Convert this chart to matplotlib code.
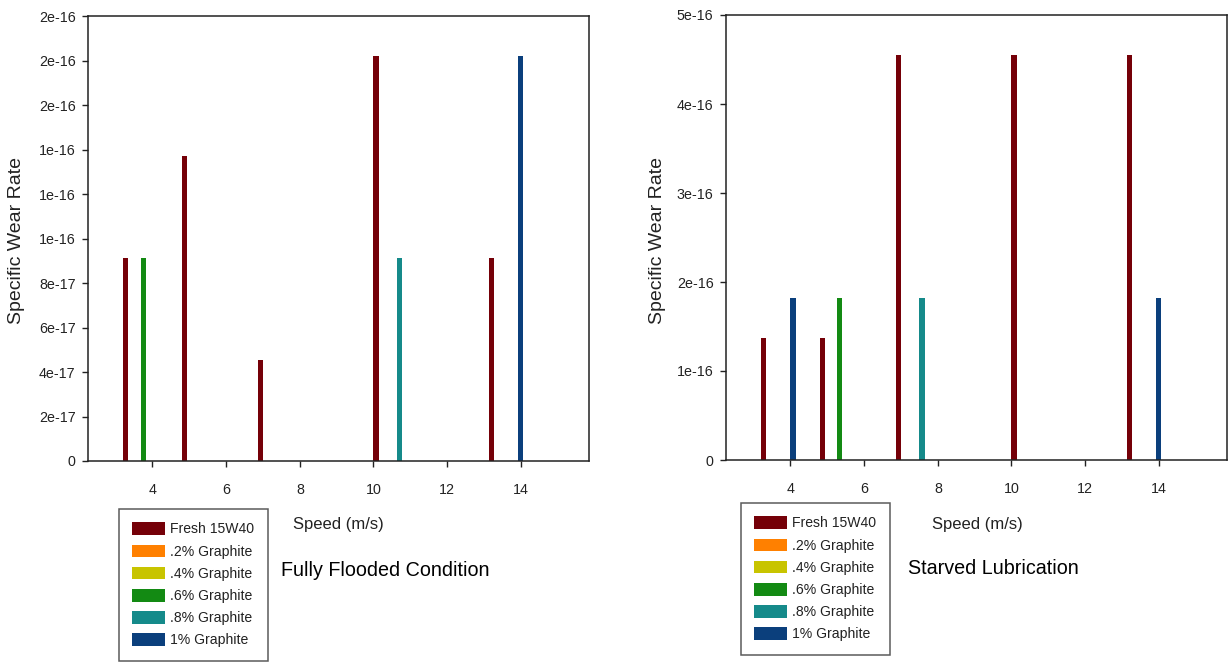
import matplotlib
matplotlib.use("Agg")
import matplotlib.pyplot as plt
import matplotlib.ticker as mticker
from matplotlib.patches import Patch
import numpy as np

plt.rcParams['font.family'] = ['Liberation Sans', 'DejaVu Sans']

speeds = [3.27, 4.86, 6.93, 10.07, 13.2]
series = ["Fresh 15W40", ".2% Graphite", ".4% Graphite", ".6% Graphite", ".8% Graphite", "1% Graphite"]
colors = ["#750008", "#ff8000", "#c8c400", "#138a13", "#158a8a", "#0b3f7c"]

flooded = {
    "Fresh 15W40": [9.12e-17, 1.37e-16, 4.56e-17, 1.82e-16, 9.12e-17],
    ".2% Graphite": [0, 0, 0, 0, 0],
    ".4% Graphite": [0, 0, 0, 0, 0],
    ".6% Graphite": [9.12e-17, 0, 0, 0, 0],
    ".8% Graphite": [0, 0, 0, 9.12e-17, 0],
    "1% Graphite": [0, 0, 0, 0, 1.82e-16],
}
starved = {
    "Fresh 15W40": [1.37e-16, 1.37e-16, 4.55e-16, 4.55e-16, 4.55e-16],
    ".2% Graphite": [0, 0, 0, 0, 0],
    ".4% Graphite": [0, 0, 0, 0, 0],
    ".6% Graphite": [0, 1.82e-16, 0, 0, 0],
    ".8% Graphite": [0, 0, 1.82e-16, 0, 0],
    "1% Graphite": [1.82e-16, 0, 0, 0, 1.82e-16],
}
x_ticks = [4, 6, 8, 10, 12, 14]
flooded_yticks = np.arange(0, 2.01e-16, 2e-17)
starved_yticks = np.arange(0, 5.01e-16, 1e-16)

W, H = 1228, 662
fig = plt.figure(figsize=(W / 100, H / 100), dpi=100)

def fmt(v, pos):
    if abs(v) < 1e-30:
        return "0"
    return "%.0e" % v

def draw(ax, data, yticks, ymax, title, ylab_x, xlab_x, title_x, title_y, leg_x, leg_y):
    step = 0.16
    width = 0.14
    for i, (name, col) in enumerate(zip(series, colors)):
        pos = np.array(speeds) + i * step
        ax.bar(pos, data[name], width=width, color=col, edgecolor='none')
    ax.set_xlim(2.25, 15.85)
    ax.set_ylim(0, ymax)
    ax.set_xticks(x_ticks)
    ax.set_yticks(yticks)
    ax.yaxis.set_major_formatter(mticker.FuncFormatter(fmt))
    ax.tick_params(direction='out', length=4, width=1, labelsize=10.3, color='#222222',
                   labelcolor='#222222')
    ax.tick_params(axis='y', pad=5)
    ax.tick_params(axis='x', pad=12)
    for s in ax.spines.values():
        s.set_linewidth(1.1)
        s.set_color('#222222')
    fig.text(ylab_x / W, 1 - 240 / H, "Specific Wear Rate", fontsize=14, rotation=90,
             ha='center', va='center', color='#222222')
    fig.text(xlab_x / W, 1 - 525 / H, "Speed (m/s)", fontsize=12, ha='left', va='center',
             color='#222222')
    fig.text(title_x / W, 1 - title_y / H, title, fontsize=14.2, ha='left', va='center')
    handles = [Patch(facecolor=c, edgecolor='none', label=n) for n, c in zip(series, colors)]
    leg = fig.legend(handles=handles, loc='upper left',
                     bbox_to_anchor=(leg_x / W, 1 - leg_y / H), fontsize=10.1,
                     frameon=True, fancybox=False, edgecolor='#333333',
                     borderaxespad=0, handlelength=2.3, handleheight=1.0,
                     labelspacing=0.58, handletextpad=0.42, borderpad=0.95)
    leg.get_frame().set_linewidth(1.1)
    for t in leg.get_texts():
        t.set_color('#222222')

ax1 = fig.add_axes([88 / W, 1 - 461 / H, (589 - 88) / W, (461 - 16) / H])
draw(ax1, flooded, flooded_yticks, 2e-16, "Fully Flooded Condition", 17, 293, 281, 571, 119, 509)

ax2 = fig.add_axes([726 / W, 1 - 460 / H, (1227 - 726) / W, (460 - 15) / H])
draw(ax2, starved, starved_yticks, 5e-16, "Starved Lubrication", 658, 932, 908, 568, 741, 503)

fig.savefig("out.png", dpi=100)
